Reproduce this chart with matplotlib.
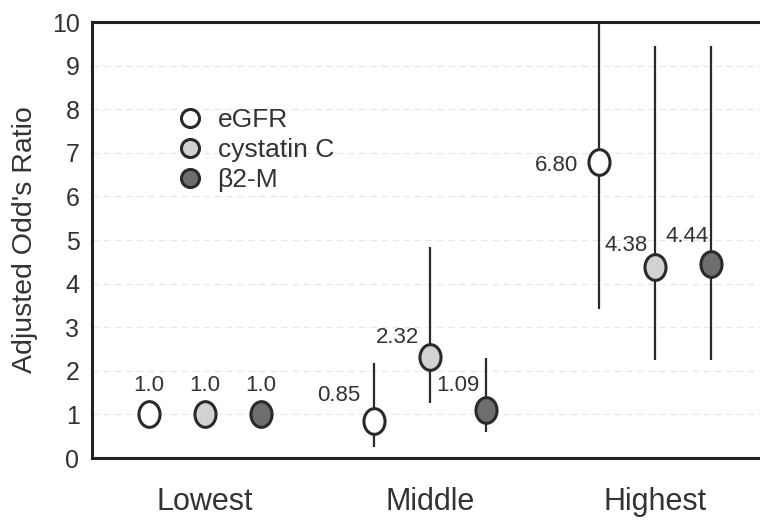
import matplotlib
matplotlib.use("Agg")
import matplotlib.pyplot as plt
import numpy as np
from matplotlib.path import Path
from matplotlib.transforms import Affine2D
from matplotlib.lines import Line2D

plt.rcParams['font.family'] = ['Liberation Sans', 'DejaVu Sans']

categories = ["Lowest", "Middle", "Highest"]
series = ["eGFR", "cystatin C", "β2-M"]
odds = [[1.0, 0.85, 6.80],
        [1.0, 2.32, 4.38],
        [1.0, 1.09, 4.44]]
ci_low = [[np.nan, 0.25, 3.42],
          [np.nan, 1.27, 2.25],
          [np.nan, 0.60, 2.25]]
ci_high = [[np.nan, 2.19, 10.0],
           [np.nan, 4.84, 9.44],
           [np.nan, 2.29, 9.44]]
labels = [["1.0", "0.85", "6.80"],
          ["1.0", "2.32", "4.38"],
          ["1.0", "1.09", "4.44"]]

fills = ["white", "#d2d2d2", "#6e6e6e"]
edge = "#2a2a2a"
txt = "#333333"

# label placement: (dx, dy, ha) per point, in data units
label_pos = [[(0.0, 0.67, "center"), (-0.06, 0.58, "right"), (-0.09, -0.10, "right")],
             [(0.0, 0.67, "center"), (-0.05, 0.45, "right"), (-0.03, 0.50, "right")],
             [(0.0, 0.67, "center"), (-0.03, 0.57, "right"), (-0.01, 0.64, "right")]]

ellipse = Path.unit_circle().transformed(Affine2D().scale(0.82, 1.0))

fig = plt.figure(figsize=(7.6, 5.2), dpi=100)
ax = fig.add_axes([92 / 760, 62 / 520, 668 / 760, 436 / 520])

offsets = [-0.25, 0.0, 0.25]
x = np.arange(len(categories))
for i, name in enumerate(series):
    xs = x + offsets[i]
    for j in range(len(categories)):
        if not np.isnan(ci_low[i][j]):
            ax.vlines(xs[j], ci_low[i][j], ci_high[i][j], color=edge, lw=1.6, zorder=2)
    ax.plot(xs, odds[i], linestyle="none", marker=ellipse, ms=18.5,
            mfc=fills[i], mec=edge, mew=2.2, zorder=3)
    for j in range(len(categories)):
        dx, dy, ha = label_pos[i][j]
        ax.text(xs[j] + dx, odds[i][j] + dy, labels[i][j], ha=ha, va="center",
                fontsize=16, color=txt)

handles = [Line2D([], [], linestyle="none", marker="o", ms=13, mfc=fills[i],
                  mec=edge, mew=2.2) for i in range(3)]
ax.legend(handles, series, loc="upper left", bbox_to_anchor=(0.111, 0.826),
          frameon=False, fontsize=19, labelcolor=txt, handletextpad=0.55,
          labelspacing=0.22, handlelength=1.0, borderaxespad=0)

ax.set_xlim(-0.502, 2.467)
ax.set_ylim(0, 10)
ax.set_yticks(range(0, 11))
ax.set_xticks(x)
ax.set_xticklabels(categories)
ax.tick_params(axis="both", length=0, labelsize=18, colors=txt)
ax.tick_params(axis="x", pad=21, labelsize=22)
ax.tick_params(axis="y", pad=9)
ax.set_ylabel("Adjusted Odd's Ratio", fontsize=20.5, color=txt, labelpad=10)

ax.grid(axis="y", color="#e6e6e6", linestyle=(0, (6, 4)), lw=0.8)
ax.set_axisbelow(True)
for side in ["top", "bottom", "left"]:
    ax.spines[side].set_linewidth(2.2)
    ax.spines[side].set_color("#222222")
ax.spines["right"].set_visible(False)

fig.savefig("out.png", dpi=100)
